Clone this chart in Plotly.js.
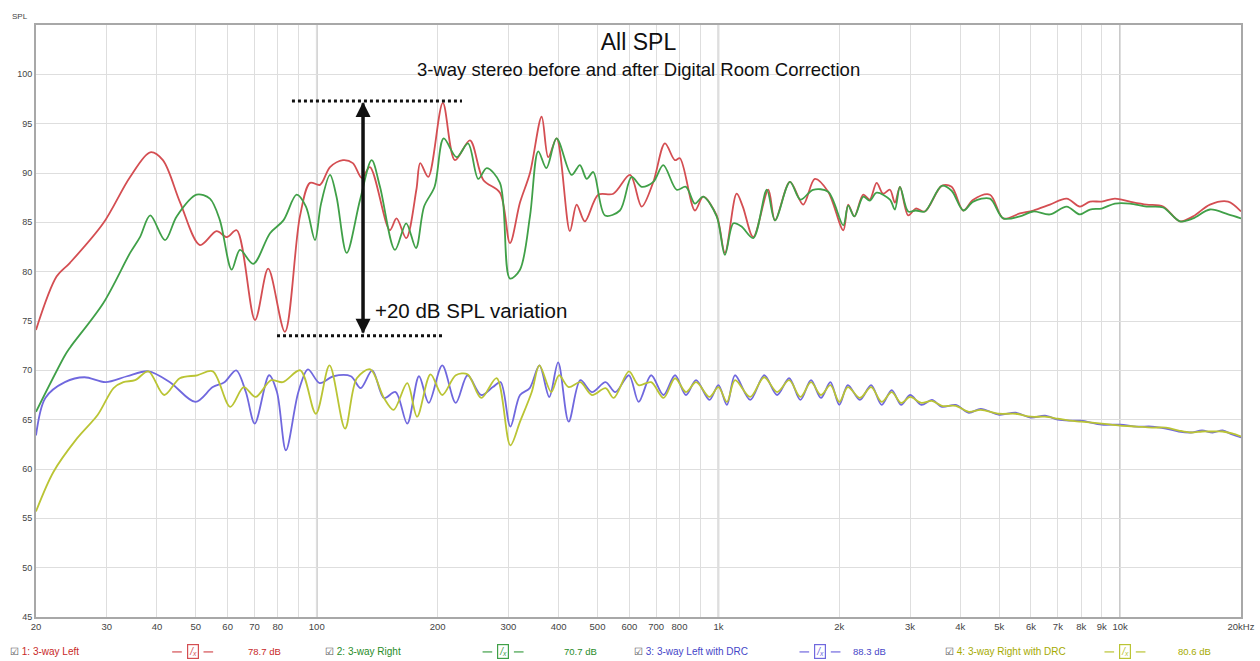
<!DOCTYPE html>
<html>
<head>
<meta charset="utf-8">
<script src="https://cdn.plot.ly/plotly-3.0.1.min.js"></script>
<style>html,body{margin:0;padding:0;background:#fff;}#chart{width:1260px;height:661px;}</style>
</head>
<body>
<div id="chart"></div>
<script>
// ---- Data ----
const leftFreq = [20,22.5,24.3,29.4,34.3,38.5,41.4,45.7,51.2,56.3,59.7,63.2,70.2,75.7,83.3,90.8,96.2,101.9,107.9,116.2,123,129.4,135.6,152,158,167,177,181,189.5,206,220.8,240.6,259.8,285.8,302.7,320.6,339.5,363,377,395.5,426.8,443.6,465,502,547.5,602.5,644,688.6,736,779,802,874,916.5,990,1038,1110,1150,1221,1331,1383,1507,1626,1738,1876,2046,2104,2180,2294,2380,2477,2570,2673,2750,2831,2968,3100,3266,3596,3807,4070,4309,4742,5117,5631,6080,6688,7363,7943,8414,9000,9706,10580,11640,12800,14090,15200,16740,18580,20000];
const leftSPL = [74.1,79.5,80.9,84.9,89.6,92.1,91.3,87.0,82.7,84.1,83.5,84.2,75.1,80.3,73.9,85.6,89.0,88.8,90.6,91.3,91.0,89.5,90.6,84.2,85.4,83.4,88.3,91.0,89.6,97.1,91.3,93.3,89.3,88.0,82.9,87.0,90.0,95.7,91.6,93.5,84.1,86.8,85.1,87.8,87.9,89.8,86.6,89.1,93.0,91.3,91.5,86.2,87.6,85.7,81.9,87.9,86.6,83.5,88.3,85.2,89.1,86.8,89.4,88.1,84.2,86.8,85.6,87.8,87.3,89.0,87.9,88.3,87.0,88.6,85.7,86.4,86.1,88.7,88.6,86.2,87.3,87.8,85.4,85.9,86.2,86.8,87.4,86.6,87.1,87.1,87.4,87.1,86.8,86.6,85.1,85.6,86.8,87.1,86.1];

const rightFreq = [20,23.6,24.3,29.4,34.3,36.3,38.5,41.9,44.8,50.2,54.2,57.4,61.4,64.4,69.5,76.5,82.6,89.1,94,99,102.5,107.9,112,118.7,128.2,137,143.7,156.6,167,176.6,185,196.5,207,222.9,238,252.4,265,285.8,302.7,320.6,339.5,356,373,395.5,431,452,470,488,522,568.5,608,644,688.6,729,787,830,874,916.5,990,1038,1090,1140,1221,1320,1383,1507,1600,1720,1876,2046,2104,2180,2294,2380,2477,2673,2750,2831,2968,3100,3266,3596,3807,4070,4309,4742,5117,5631,6080,6688,7363,7943,8414,9000,9706,10580,11640,12800,14090,15200,16740,18580,20000];
const rightSPL = [65.8,71.5,72.3,76.8,81.9,83.5,85.7,83.2,85.6,87.8,87.4,85.2,80.2,82.2,80.8,83.9,85.2,87.8,86.6,83.2,86.9,89.8,87.6,81.9,87.3,91.3,88.6,82.2,84.9,82.4,86.6,88.6,93.5,91.6,93.0,89.4,90.5,89.0,79.3,80.2,85.6,92.2,90.5,93.5,89.8,90.8,89.4,90.1,85.7,86.2,89.6,88.6,89.1,90.8,88.3,88.6,86.9,87.6,85.6,81.7,84.9,84.6,83.4,88.3,85.2,89.1,87.3,88.3,88.1,84.7,86.7,85.6,87.6,87.2,88.0,87.3,86.3,88.6,86.1,86.2,86.1,88.7,88.2,86.2,87.1,87.4,85.4,85.6,86.1,85.8,86.6,85.8,86.3,86.4,86.9,86.9,86.6,86.5,85.1,85.4,86.3,85.8,85.4];

const leftDrcFreq = [20,21.1,23.6,26.4,29.8,33.7,38.1,43.1,49.9,55.1,58.9,63,66.6,70.1,76.1,79.6,83.8,90,95.1,101.7,110,121.6,128.6,137.5,147,157.1,168,179.7,190,205.3,221.9,237.4,256.7,274.4,286.8,303.4,320.7,339.1,358.4,379.2,399,423.8,453.2,484.3,523.6,553.8,598.8,633,680,730,780,830,880,950,1000,1050,1100,1200,1300,1400,1500,1600,1700,1800,1900,2000,2100,2250,2400,2550,2700,2850,3000,3200,3400,3600,3900,4200,4500,5000,5500,6000,6500,7000,7500,8000,9000,10000,11000,12000,13000,14000,15000,16000,17000,18000,19000,20000];
const leftDrcSPL = [63.4,67.2,68.8,69.3,68.8,69.4,69.9,68.8,66.8,68.3,68.8,70.0,67.8,64.6,69.5,67.8,61.9,67.8,70.1,68.7,69.4,69.4,68.2,70.0,67.2,67.8,64.6,69.4,66.7,70.5,66.7,69.5,67.5,68.3,68.8,64.3,67.5,68.2,70.5,67.3,70.8,64.8,69.0,67.8,68.8,67.8,69.5,66.8,69.5,67.5,69.5,67.5,69.0,67.0,68.5,66.5,69.5,67.0,69.5,67.5,69.2,67.0,69.0,67.2,68.8,66.5,68.5,67.0,68.5,66.5,68.0,66.5,67.5,66.5,67.0,66.3,66.5,65.7,66.1,65.5,65.7,65.2,65.4,65.0,64.9,64.9,64.5,64.5,64.3,64.3,64.1,63.8,63.7,63.9,63.7,63.9,63.5,63.2];

const rightDrcFreq = [20,22.1,25.3,28.5,31.2,33,35.3,38.1,41.7,45.6,50.4,55.1,60.9,65.8,70.4,77,82.3,91,99.5,107.6,117.6,125.8,135.9,147,155.4,168,177.7,192,205.3,221.9,237.4,256.7,280.4,303.4,320.7,343,358.4,383.4,400.9,423.8,453.2,484.3,523.6,548.6,598.8,633,680,730,780,830,880,950,1000,1050,1100,1200,1300,1400,1500,1600,1700,1800,1900,2000,2100,2250,2400,2550,2700,2850,3000,3200,3400,3600,3900,4200,4500,5000,5500,6000,6500,7000,7500,8000,9000,10000,11000,12000,13000,14000,15000,16000,17000,18000,19000,20000];
const rightDrcSPL = [55.7,59.7,63.1,65.5,68.2,68.8,69.0,69.9,67.5,69.2,69.5,69.9,66.3,68.3,67.3,69.0,68.8,70.0,65.6,70.5,64.1,69.2,70.1,67.2,66.0,68.7,65.3,69.6,67.5,69.5,69.6,67.2,69.2,62.4,64.8,67.8,70.5,67.8,69.5,68.3,68.8,67.5,68.2,67.2,69.9,68.5,68.8,67.2,69.2,67.8,68.8,67.3,68.3,66.8,69.0,67.3,69.3,67.8,69.0,67.3,68.8,67.5,68.5,66.8,68.3,67.2,68.3,66.8,67.8,66.7,67.3,66.7,66.9,66.4,66.4,65.8,66.0,65.6,65.6,65.3,65.3,65.1,64.9,64.8,64.6,64.4,64.3,64.2,64.2,63.9,63.7,63.8,63.8,63.8,63.6,63.3];

const seriesNames = ["1: 3-way Left","2: 3-way Right","3: 3-way Left with DRC","4: 3-way Right with DRC"];
const seriesLevels = ["78.7 dB","70.7 dB","88.3 dB","80.6 dB"];
const xTickVals = [20,30,40,50,60,70,80,90,100,200,300,400,500,600,700,800,900,1000,2000,3000,4000,5000,6000,7000,8000,9000,10000,20000];
const xTickText = ["20","30","40","50","60","70","80","","100","200","300","400","500","600","700","800","","1k","2k","3k","4k","5k","6k","7k","8k","9k","10k","20kHz"];
const yTickVals = [45,50,55,60,65,70,75,80,85,90,95,100];

// ---- Styles ----
const colors = ["rgb(212,78,82)","rgb(64,160,72)","rgb(112,104,222)","rgb(186,196,52)"];
const textColors = ["rgb(200,40,40)","rgb(40,140,40)","rgb(70,70,200)","rgb(165,170,0)"];
const font = "Liberation Sans, Arial, sans-serif";

const xs = [leftFreq, rightFreq, leftDrcFreq, rightDrcFreq];
const ys = [leftSPL, rightSPL, leftDrcSPL, rightDrcSPL];
const traces = xs.map((x, i) => ({
  type: "scatter", mode: "lines", x: x, y: ys[i], name: seriesNames[i],
  line: {color: colors[i], width: 1.8, shape: "spline", smoothing: 0.9},
  hoverinfo: "x+y+name"
}));

// legend row along bottom
const legendY = -0.059;
const legendSlots = [
  {label: -0.023, sym: 0.130, lvl: 0.190},
  {label: 0.238, sym: 0.3876, lvl: 0.4515},
  {label: 0.4946, sym: 0.6506, lvl: 0.692},
  {label: 0.7527, sym: 0.9037, lvl: 0.9618}
];
const annotations = [];
const shapes = [];
legendSlots.forEach((s, i) => {
  annotations.push({xref: "paper", yref: "paper", x: s.label, y: legendY, xanchor: "left", yanchor: "middle",
    text: "<span style='color:#555'>☑</span> " + seriesNames[i], showarrow: false,
    font: {family: font, size: 10, color: textColors[i]}});
  annotations.push({xref: "paper", yref: "paper", x: s.sym, y: legendY, xanchor: "center", yanchor: "middle",
    text: "<i>/ₓ</i>", showarrow: false, bordercolor: colors[i], borderwidth: 1.2, borderpad: 1,
    bgcolor: "#fff", font: {family: font, size: 10, color: colors[i]}});
  annotations.push({xref: "paper", yref: "paper", x: s.lvl, y: legendY, xanchor: "center", yanchor: "middle",
    text: seriesLevels[i], showarrow: false, font: {family: font, size: 9.5, color: textColors[i]}});
  shapes.push({type: "line", xref: "paper", yref: "paper", x0: s.sym - 0.017, x1: s.sym - 0.009,
    y0: legendY, y1: legendY, line: {color: colors[i], width: 1.2}});
  shapes.push({type: "line", xref: "paper", yref: "paper", x0: s.sym + 0.009, x1: s.sym + 0.017,
    y0: legendY, y1: legendY, line: {color: colors[i], width: 1.2}});
});

// subtitle, axis label, variation note
annotations.push({xref: "paper", yref: "paper", x: 0.5, y: 0.924, xanchor: "center", yanchor: "middle",
  text: "3-way stereo before and after Digital Room Correction", showarrow: false,
  font: {family: font, size: 18.5, color: "#111"}});
annotations.push({xref: "paper", yref: "paper", x: -0.013, y: 1.015, xanchor: "center", yanchor: "middle",
  text: "SPL", showarrow: false, font: {family: font, size: 8, color: "#444"}});
annotations.push({xref: "paper", yref: "y", x: 0.361, y: 76.1, xanchor: "center", yanchor: "middle",
  text: "+20 dB SPL variation", showarrow: false, font: {family: font, size: 20.5, color: "#111"}});
// double-headed arrow
annotations.push({xref: "paper", yref: "y", x: 0.2714, y: 97.2, ax: 0, ay: 232, axref: "pixel", ayref: "pixel",
  text: "", showarrow: true, arrowhead: 2, arrowsize: 1, arrowwidth: 3, arrowcolor: "#111"});
annotations.push({xref: "paper", yref: "y", x: 0.2714, y: 73.7, ax: 0, ay: -232, axref: "pixel", ayref: "pixel",
  text: "", showarrow: true, arrowhead: 2, arrowsize: 1, arrowwidth: 3, arrowcolor: "#111"});

shapes.push({type: "line", xref: "paper", yref: "y", x0: 0.2124, x1: 0.3535, y0: 97.3, y1: 97.3,
   line: {color: "#111", width: 3, dash: "dot"}});
shapes.push({type: "line", xref: "paper", yref: "y", x0: 0.2000, x1: 0.3394, y0: 73.5, y1: 73.5,
   line: {color: "#111", width: 3, dash: "dot"}});
[100, 1000, 10000].forEach(v => shapes.push({type: "line", xref: "x", yref: "paper", x0: v, x1: v, y0: 0, y1: 1,
  layer: "below", line: {color: "#b5b5b5", width: 1.6}}));

const layout = {
  width: 1260, height: 661,
  margin: {l: 36, r: 19, t: 25, b: 44},
  paper_bgcolor: "#fff", plot_bgcolor: "#fff",
  showlegend: false,
  title: {text: "All SPL", x: 0.5, xref: "paper", y: 0.937, yref: "container", yanchor: "middle",
    font: {family: font, size: 23, color: "#111"}},
  xaxis: {type: "log", range: [Math.log10(20), Math.log10(20000)],
    tickvals: xTickVals, ticktext: xTickText, ticks: "",
    tickfont: {family: font, size: 9.5, color: "#444"},
    showgrid: true, gridcolor: "#dedede", gridwidth: 1,
    showline: true, linecolor: "#a8a8a8", linewidth: 2, mirror: true, zeroline: false},
  yaxis: {range: [45, 105], tickvals: yTickVals, ticks: "",
    tickfont: {family: font, size: 9, color: "#444"},
    showgrid: true, gridcolor: "#dedede", gridwidth: 1,
    showline: true, linecolor: "#a8a8a8", linewidth: 2, mirror: true, zeroline: false},
  annotations: annotations,
  shapes: shapes
};

Plotly.newPlot("chart", traces, layout, {displayModeBar: false, staticPlot: true});
</script>
</body>
</html>
